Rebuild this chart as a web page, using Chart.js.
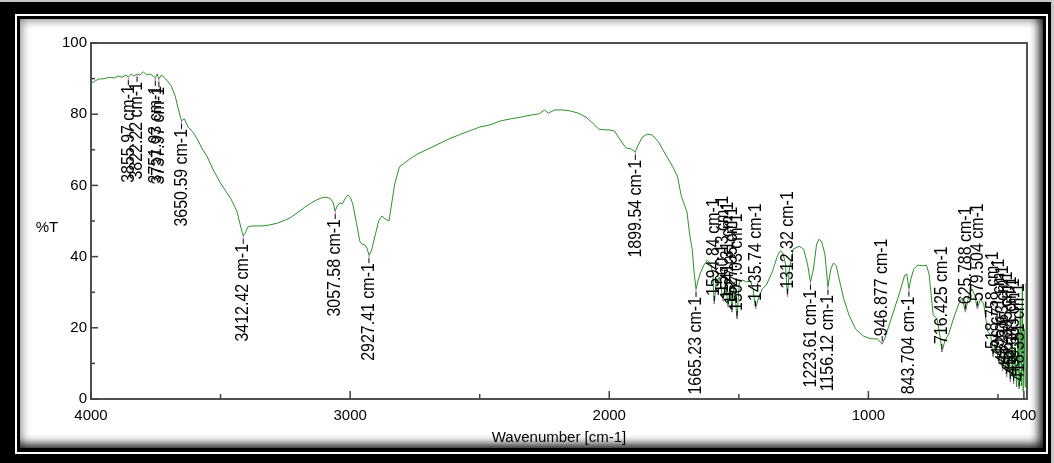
<!DOCTYPE html>
<html><head><meta charset="utf-8">
<script src="https://cdn.jsdelivr.net/npm/chart.js@4.4.1/dist/chart.umd.min.js"></script>
<style>
html,body{margin:0;padding:0;}
body{width:1054px;height:463px;background:#c8c8c8;position:relative;overflow:hidden;}
#blk{position:absolute;left:0;top:2px;width:1051px;height:461px;background:#000;}
#wline{position:absolute;left:15px;top:14px;width:1029px;height:436px;border:2px solid #fff;}
#panel{position:absolute;left:20px;top:19px;width:1023px;height:429px;background:#fff;
 box-shadow: inset 7px 7px 9px -5px rgba(0,0,0,0.45), inset -9px -9px 10px -5px rgba(0,0,0,0.9);}
canvas{position:absolute;left:0;top:0;}
</style></head>
<body>
<div id="blk"></div><div id="wline"></div><div id="panel"></div>
<canvas id="c" width="1054" height="463"></canvas>
<script>
const wavenumbers = [4000,3985,3970,3955,3940,3925,3910,3895,3880,3865,3856,3845,3835,3822,3810,3798,3785,3772,3760,3752,3745,3738,3728,3718,3705,3690,3675,3665,3650.59,3640,3625,3607,3590,3570,3553,3530,3503,3480,3460,3437,3425,3418,3412,3405,3395,3380,3360,3340,3310,3280,3250,3233,3200,3175,3156,3130,3110,3090,3075,3065,3058,3050,3040,3030,3020,3009,2998,2990,2975,2963,2955,2944,2935,2927,2918,2905,2890,2878,2865,2850,2840,2828,2810,2790,2770,2740,2700,2660,2620,2580,2540,2500,2460,2420,2380,2340,2300,2270,2250,2235,2210,2180,2150,2120,2090,2060,2040,2020,2000,1980,1960,1935,1915,1899.54,1890,1872,1853,1835,1810,1780,1756,1737,1722,1700,1690,1680,1672,1665.23,1658,1650,1635,1622,1610,1600,1594.84,1588,1575,1560.13,1552,1541.31,1533,1527.05,1518,1507.03,1498,1485,1470,1455,1445,1435.74,1425,1410,1394,1371,1350,1340,1330,1320,1312.32,1305,1290,1267,1250,1235,1223.61,1212,1200,1190,1180,1168,1156.12,1145,1135,1124,1113,1095,1075,1050,1020,990,965,946.877,935,910,880,860,852,843.704,836,825,810,790,776,766,750,735,722,716.425,705,690,670,650,638,625.788,612,600,590,579.504,568,555,540,528,518.758,512,505,496.671,490,482.063,476,466.635,460,452.171,446,439.563,435,428,422,418.351,414,410,406,403,399,395,392];
const transmittance = [88.6,89.3,89.9,89.9,90.2,90.3,90.2,90.7,90.4,91.0,90.4,91.3,90.7,91.3,91.0,91.9,91.0,91.3,90.7,90.2,91.3,89.9,91.0,90.4,89.3,87.9,85.1,82.0,78.1,78.7,76.4,75.0,73.0,70.2,68.3,64.6,61.0,58.4,56.2,52.8,49.2,47.2,45.8,46.6,48.3,48.6,48.6,48.6,48.9,49.4,50.3,50.8,52.5,53.9,54.8,55.9,56.5,56.7,56.2,55.1,52.8,54.2,55.1,54.8,56.2,57.3,56.5,54.8,49.2,44.4,43.5,43.3,42.4,40.4,41.6,45.5,50.0,51.4,50.6,50.0,54.8,60.4,65.2,66.3,67.4,68.8,70.2,71.6,73.0,74.2,75.3,76.4,77.0,78.1,78.7,79.2,79.8,80.1,81.2,80.3,81.2,81.2,80.9,80.3,79.2,77.2,75.8,75.6,75.6,75.3,73.0,70.5,70.2,69.4,71.1,73.6,74.4,74.2,72.2,68.3,65.4,62.6,57.0,52.5,46.3,42.1,35.1,30.9,33.1,35.1,37.6,39.0,38.2,35.1,26.7,32.3,34.3,27.5,32.9,25.8,32.0,24.4,32.9,22.5,32.9,33.4,32.9,33.1,30.9,25.3,28.1,30.9,32.0,35.7,40.4,41.6,41.0,37.9,28.7,36.5,42.1,42.9,42.1,37.9,32.9,36.5,43.5,44.9,44.1,40.7,31.5,36.5,38.2,37.4,33.7,28.1,23.6,19.7,17.7,16.9,16.9,15.4,17.4,23.0,29.8,34.8,35.1,31.0,33.7,36.5,37.6,37.4,37.6,35.1,23.6,22.5,16.9,13.2,16.3,18.3,23.0,27.0,28.4,24.4,29.2,30.9,29.2,25.3,28.1,26.7,19.1,17.9,11.8,15.4,14.0,9.8,13.5,7.9,12.6,6.2,14.0,4.8,15.4,4.2,14.6,3.4,19.7,2.8,25.3,3.7,32.3,2.2,19.7,3.4,32.6];

const peakWavenumbers = [3855.97,3822.22,3751.93,3737.97,3650.59,3412.42,3057.58,2927.41,1899.54,1665.23,1594.84,1560.13,1541.31,1527.05,1507.03,1435.74,1312.32,1223.61,1156.12,946.877,843.704,716.425,625.788,579.504,518.758,496.671,482.063,466.635,452.171,439.563,418.351];
const peakTransmittance = [90.4,91.3,90.2,89.9,78.1,45.8,52.8,40.4,69.4,30.9,26.7,27.5,25.8,24.4,22.5,25.3,28.7,32.9,31.5,15.4,31.0,13.2,24.4,25.3,11.8,9.8,7.9,6.2,4.8,4.2,2.8];

const xTickValues = [4000,3000,2000,1000,400];
const xTickLabels = ['4000','3000','2000','1000','400'];
const xMinorTicks = [3500,2500,1500,500];
const yTickValues = [0,20,40,60,80,100];
const yTickLabels = ['0','20','40','60','80','100'];
const yMinorTicks = [10,30,50,70,90];
const xTitle = 'Wavenumber [cm-1]';
const yTitle = '%T';

const FONT = "'Liberation Sans',Arial,sans-serif";

const points = wavenumbers.map((w,i)=>({x:w, y:transmittance[i]}));

function seg(ctx,x1,y1,x2,y2){ctx.beginPath();ctx.moveTo(x1,y1);ctx.lineTo(x2,y2);ctx.stroke();}

const decor = {
  id:'decor',
  afterDatasetsDraw(chart){
    const {ctx, chartArea:a, scales:{x,y}} = chart;
    ctx.save();
    ctx.strokeStyle='#505050'; ctx.lineWidth=2;
    ctx.beginPath(); ctx.moveTo(a.left,a.top); ctx.lineTo(a.right,a.top); ctx.lineTo(a.right,a.bottom); ctx.stroke();
    ctx.lineWidth=1.5; ctx.strokeStyle='#404040';
    xTickValues.forEach(v=>{const p=x.getPixelForValue(v); seg(ctx,p,a.bottom,p,a.bottom-8);});
    xMinorTicks.forEach(v=>{const p=x.getPixelForValue(v); seg(ctx,p,a.bottom,p,a.bottom-5);});
    yTickValues.forEach(v=>{const p=y.getPixelForValue(v); seg(ctx,a.left,p,a.left+7,p);});
    yMinorTicks.forEach(v=>{const p=y.getPixelForValue(v); seg(ctx,a.left,p,a.left+4,p);});
    // peak labels (slightly condensed)
    const SX = 0.84;
    ctx.font = "19px "+FONT;
    ctx.textBaseline='middle'; ctx.textAlign='left'; ctx.fillStyle='#000';
    ctx.lineWidth=1;
    peakWavenumbers.forEach((w,i)=>{
      const px = x.getPixelForValue(w), py = y.getPixelForValue(peakTransmittance[i]);
      const label = w.toPrecision(6)+' cm-1';
      const len = ctx.measureText(label).width*SX;
      const gap = 8;
      const below = py+gap+len <= a.bottom+2;
      const d = below?1:-1;
      ctx.strokeStyle='#e060e0'; seg(ctx,px,py,px,py+3*d);
      ctx.strokeStyle='#000'; seg(ctx,px,py+3*d,px,py+gap*d);
      ctx.save();
      ctx.translate(px, below? py+gap+len : py-gap);
      ctx.rotate(-Math.PI/2);
      ctx.scale(SX,1);
      ctx.fillText(label,0,0);
      ctx.restore();
    });
    ctx.font = "15px "+FONT; ctx.textAlign='center'; ctx.textBaseline='middle';
    ctx.fillText(yTitle, 47, 228);
    ctx.restore();
  }
};

new Chart(document.getElementById('c'), {
  type:'line',
  data:{datasets:[{data:points, borderColor:'#2a922a', borderWidth:1, pointRadius:0, tension:0, fill:false}]},
  options:{
    responsive:false, animation:false, devicePixelRatio:1,
    layout:{padding:{left:0,top:43,right:27,bottom:0}},
    plugins:{legend:{display:false}, tooltip:{enabled:false}},
    scales:{
      x:{type:'linear', reverse:true, min:388, max:4000,
        afterBuildTicks:s=>{s.ticks = xTickValues.map(v=>({value:v}));},
        afterFit:s=>{s.height=64;},
        ticks:{autoSkip:false, maxRotation:0, padding:8, color:'#000', font:{family:FONT,size:15},
          callback:v=>xTickLabels[xTickValues.indexOf(v)]},
        grid:{display:false, drawTicks:false},
        border:{display:true, color:'#505050', width:2},
        title:{display:true, text:xTitle, color:'#000', font:{family:FONT,size:15}, padding:{top:0,bottom:16}}
      },
      y:{type:'linear', min:0, max:100,
        afterBuildTicks:s=>{s.ticks = yTickValues.map(v=>({value:v}));},
        afterFit:s=>{s.width=91;},
        ticks:{padding:4, color:'#000', font:{family:FONT,size:15},
          callback:v=>yTickLabels[yTickValues.indexOf(v)]},
        grid:{display:false, drawTicks:false},
        border:{display:true, color:'#505050', width:2}
      }
    }
  },
  plugins:[decor]
});
</script>
</body></html>
